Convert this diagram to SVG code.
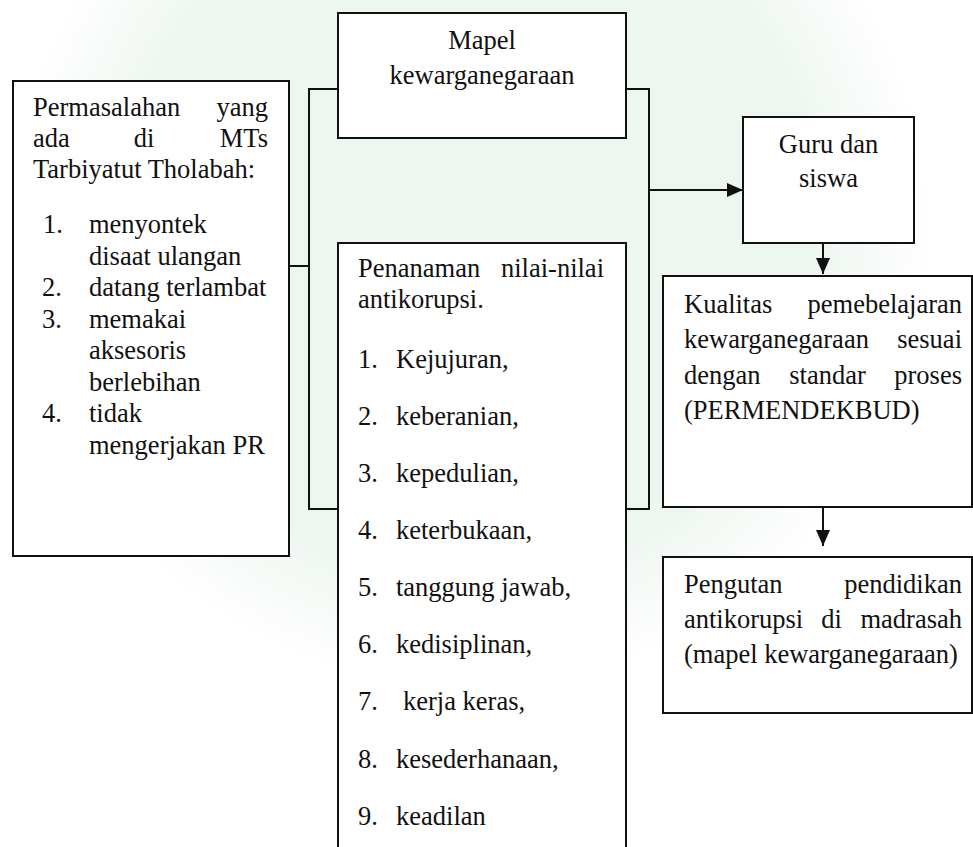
<svg xmlns="http://www.w3.org/2000/svg" width="973" height="847" viewBox="0 0 973 847">
<style>
  text { font-family: "Liberation Serif", "Times New Roman", serif; font-size: 26.5px; fill: #111; }
  .box { fill: #ffffff; stroke: #111; stroke-width: 2; }
  .line { fill: none; stroke: #111; stroke-width: 2; }
  .mid { text-anchor: middle; }
  .end { text-anchor: end; }
</style>
<defs>
  <marker id="arrow" viewBox="0 0 16 14" refX="16" refY="7" markerWidth="16" markerHeight="14" markerUnits="userSpaceOnUse" orient="auto">
    <path d="M0,0 L16,7 L0,14 Z" fill="#111"/>
  </marker>
  <radialGradient id="tint" cx="0.5" cy="0.5" r="0.5">
    <stop offset="0" stop-color="#edf6ef"/>
    <stop offset="0.75" stop-color="#eef6f0"/>
    <stop offset="1" stop-color="#ffffff"/>
  </radialGradient>
</defs>
<rect x="0" y="0" width="973" height="847" fill="#ffffff"/>
<circle cx="470" cy="230" r="460" fill="url(#tint)"/>

<g id="connectors">
  <path class="line" d="M289,266 H309"/>
  <rect class="line" x="309" y="89" width="340" height="420"/>
  <path class="line" d="M649,190 H743" marker-end="url(#arrow)"/>
  <path class="line" d="M823,243 V274" marker-end="url(#arrow)"/>
  <path class="line" d="M823,507 V546" marker-end="url(#arrow)"/>
</g>

<g id="permasalahan">
  <rect class="box" x="13" y="81" width="276" height="475"/>
  <text x="33" y="116">Permasalahan</text><text class="end" x="268" y="116">yang</text>
  <text x="33" y="147">ada</text><text class="mid" x="144" y="147">di</text><text class="end" x="268" y="147">MTs</text>
  <text x="33" y="178">Tarbiyatut Tholabah:</text>
  <text x="43" y="233">1.</text><text x="89" y="233">menyontek</text>
  <text x="89" y="264.5">disaat ulangan</text>
  <text x="42" y="296">2.</text><text x="89" y="296">datang terlambat</text>
  <text x="42" y="327.5">3.</text><text x="89" y="327.5">memakai</text>
  <text x="89" y="359">aksesoris</text>
  <text x="89" y="390.5">berlebihan</text>
  <text x="42" y="422">4.</text><text x="89" y="422">tidak</text>
  <text x="89" y="453.5">mengerjakan PR</text>
</g>

<g id="mapel">
  <rect class="box" x="338" y="13" width="288" height="125"/>
  <text class="mid" x="482" y="49">Mapel</text>
  <text class="mid" x="482" y="84">kewarganegaraan</text>
</g>

<g id="penanaman">
  <rect class="box" x="338" y="243" width="288" height="620"/>
  <text x="358" y="277">Penanaman</text><text class="end" x="604" y="277">nilai-nilai</text>
  <text x="358" y="308">antikorupsi.</text>
  <text x="358" y="368">1.</text><text x="396" y="368">Kejujuran,</text>
  <text x="358" y="425">2.</text><text x="396" y="425">keberanian,</text>
  <text x="358" y="482">3.</text><text x="396" y="482">kepedulian,</text>
  <text x="358" y="539">4.</text><text x="396" y="539">keterbukaan,</text>
  <text x="358" y="596">5.</text><text x="396" y="596">tanggung jawab,</text>
  <text x="358" y="653">6.</text><text x="396" y="653">kedisiplinan,</text>
  <text x="358" y="710">7.</text><text x="403" y="710">kerja keras,</text>
  <text x="358" y="768">8.</text><text x="396" y="768">kesederhanaan,</text>
  <text x="358" y="825">9.</text><text x="396" y="825">keadilan</text>
</g>

<g id="guru">
  <rect class="box" x="743" y="117" width="171" height="126"/>
  <text class="mid" x="828.5" y="153">Guru dan</text>
  <text class="mid" x="828.5" y="187">siswa</text>
</g>

<g id="kualitas">
  <rect class="box" x="663" y="276" width="309" height="231"/>
  <text x="684" y="313">Kualitas</text><text class="end" x="962" y="313">pemebelajaran</text>
  <text x="684" y="348">kewarganegaraan</text><text class="end" x="962" y="348">sesuai</text>
  <text x="684" y="384">dengan</text><text class="mid" x="827.5" y="384">standar</text><text class="end" x="962" y="384">proses</text>
  <text x="684" y="419">(PERMENDEKBUD)</text>
</g>

<g id="pengutan">
  <rect class="box" x="663" y="557" width="309" height="156"/>
  <text x="684" y="593">Pengutan</text><text class="end" x="962" y="593">pendidikan</text>
  <text x="684" y="628">antikorupsi</text><text class="mid" x="831.5" y="628">di</text><text class="end" x="962" y="628">madrasah</text>
  <text x="684" y="663">(mapel kewarganegaraan)</text>
</g>
</svg>
